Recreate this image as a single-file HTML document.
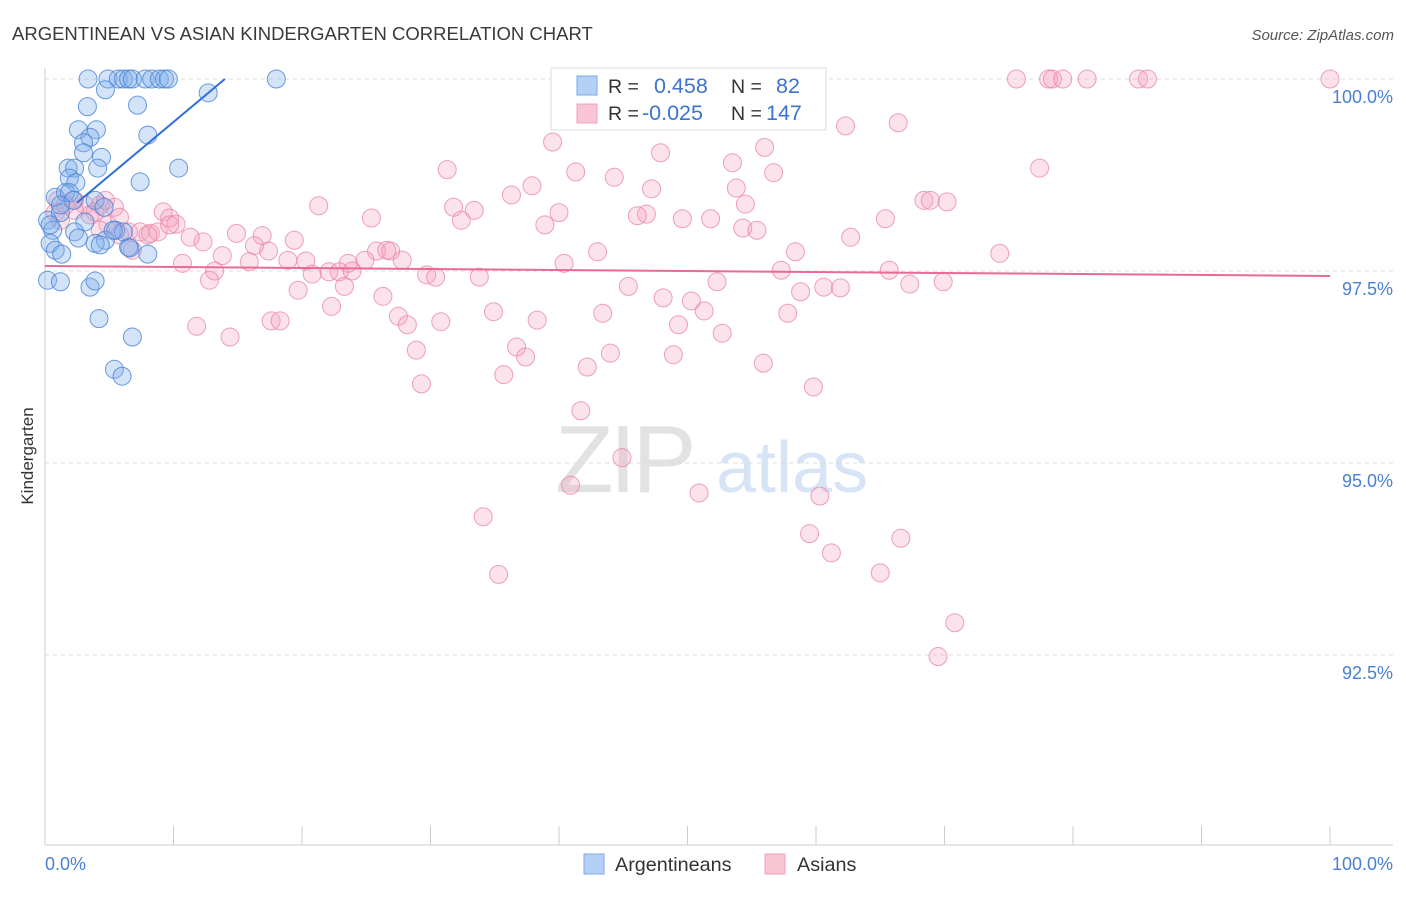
<!DOCTYPE html>
<html><head><meta charset="utf-8"><style>
body{margin:0;background:#fff;font-family:"Liberation Sans",sans-serif;}
svg text{font-family:"Liberation Sans",sans-serif;}
</style></head><body>
<svg id="chart" width="1406" height="892" viewBox="0 0 1406 892" xmlns="http://www.w3.org/2000/svg">
<text x="12" y="40" font-size="18.5" fill="#3a3a3a">ARGENTINEAN VS ASIAN KINDERGARTEN CORRELATION CHART</text>
<text x="1394" y="40" font-size="15" fill="#555" text-anchor="end" font-style="italic">Source: ZipAtlas.com</text>
<text transform="translate(33,456) rotate(-90)" font-size="17" fill="#333" text-anchor="middle">Kindergarten</text>
<g>
<text x="555" y="492" font-size="96" fill="#e2e2e2" font-family="Liberation Serif" letter-spacing="-4">ZIP</text>
<text x="716" y="492" font-size="72" fill="#d6e4f5">atlas</text>
</g>
<g id="grid"></g>
<g id="axes"></g>
<g id="pts"></g>
<g id="lines"></g>
<g>
<rect x="551" y="68" width="275" height="62" fill="#fff" stroke="#ddd"/>
<rect x="577" y="76" width="20" height="19" fill="#b5d0f5" stroke="#7aaae8"/>
<text x="608" y="93" font-size="19.5" fill="#333">R =</text>
<text x="654" y="93" font-size="21.5" fill="#3a73d0">0.458</text>
<text x="731" y="93" font-size="19.5" fill="#333">N =</text>
<text x="776" y="93" font-size="21.5" fill="#3a73d0">82</text>
<rect x="577" y="104" width="20" height="19" fill="#f9c4d4" stroke="#f0a0bc"/>
<text x="608" y="120" font-size="19.5" fill="#333">R =</text>
<text x="642" y="120" font-size="21.5" fill="#3a73d0">-0.025</text>
<text x="731" y="120" font-size="19.5" fill="#333">N =</text>
<text x="766" y="120" font-size="21.5" fill="#3a73d0">147</text>
</g>
<g>
<rect x="584" y="854" width="20" height="20" fill="#b5d0f5" stroke="#7aaae8"/>
<text x="615" y="871" font-size="19.8" fill="#333">Argentineans</text>
<rect x="765" y="854" width="20" height="20" fill="#f9c4d4" stroke="#f0a0bc"/>
<text x="797" y="871" font-size="19.8" fill="#333">Asians</text>
</g>
</svg>
<script>
const yTicks=[100,97.5,95,92.5];
const yTickLabels=["100.0%","97.5%","95.0%","92.5%"];
const xTickLabels=["0.0%","100.0%"];
const blueX=[3.35,4.9,5.7,6.1,6.5,6.8,7.8,8.3,8.9,9.3,9.6,18.0,4.7,3.3,7.2,12.7,2.6,4.0,3.5,8.0,3.0,3.0,4.4,1.8,2.3,4.1,10.4,1.9,2.4,7.4,0.8,1.6,1.9,3.9,2.2,4.6,1.2,0.2,3.1,0.6,2.3,5.5,4.7,2.6,3.9,6.5,8.0,0.4,0.8,1.3,4.3,0.2,1.2,3.5,3.9,4.2,6.8,5.4,6.0,6.1,5.3,0.4,6.6,1.2];
const blueY=[100,100,100,100,100,100,100,100,100,100,100,100,99.86,99.64,99.66,99.82,99.34,99.34,99.24,99.27,99.17,99.04,98.98,98.84,98.84,98.84,98.84,98.71,98.65,98.66,98.46,98.52,98.52,98.42,98.42,98.33,98.26,98.16,98.14,98.03,98.01,98.03,97.9,97.93,97.86,97.81,97.72,97.86,97.77,97.72,97.84,97.38,97.36,97.29,97.37,96.88,96.64,96.22,96.13,98.01,98.03,98.1,97.8,98.36];
const pinkX=[75.6,78.1,78.4,79.2,81.1,85.1,85.8,100,39.5,47.9,62.3,66.4,56.0,53.5,47.9,31.3,41.3,44.3,56.7,77.4,37.9,36.3,47.2,53.8,68.4,68.9,70.2,21.3,31.8,33.4,40.0,46.8,46.1,49.6,51.8,54.5,65.4,32.4,25.4,38.9,54.3,55.4,62.7,14.9,16.9,12.3,19.4,9.2,9.7,10.2,11.3,17.4,16.3,25.8,26.6,26.9,27.8,24.9,23.6,13.8,15.9,18.9,20.3,22.1,40.4,43.0,58.4,74.3,10.7,13.2,12.8,20.8,22.9,23.9,23.3,29.7,30.4,33.8,45.4,52.3,57.3,65.7,69.9,67.3,58.8,60.6,61.9,19.7,26.3,22.3,48.1,50.3,51.3,43.4,34.9,38.3,27.5,28.2,30.8,17.6,18.3,11.8,14.4,49.3,52.7,57.8,36.7,37.4,44.0,28.9,48.9,55.9,42.2,35.7,29.3,59.8,41.7,44.9,40.9,50.9,60.3,34.1,59.5,66.6,61.2,35.3,65.0,70.8,69.5,0.8,1.6,2.3,3.1,3.9,4.3,4.9,5.4,5.8,6.5,7.4,8.2,8.8,9.7,6.8,1.2,1.0,4.3,8.0,5.8,4.7,3.5,2.3];
const pinkY=[100,100,100,100,100,100,100,100,99.18,99.53,99.39,99.43,99.11,98.91,99.04,98.82,98.79,98.72,98.78,98.84,98.61,98.49,98.57,98.58,98.42,98.42,98.40,98.35,98.33,98.29,98.26,98.24,98.22,98.18,98.18,98.37,98.18,98.16,98.19,98.10,98.06,98.03,97.94,97.99,97.96,97.88,97.90,98.27,98.19,98.11,97.94,97.76,97.83,97.76,97.77,97.76,97.64,97.64,97.60,97.70,97.62,97.64,97.63,97.49,97.60,97.75,97.75,97.73,97.60,97.50,97.38,97.46,97.49,97.50,97.30,97.45,97.42,97.42,97.30,97.36,97.51,97.51,97.36,97.33,97.23,97.29,97.28,97.25,97.17,97.04,97.15,97.11,96.98,96.95,96.97,96.86,96.91,96.80,96.84,96.85,96.85,96.78,96.64,96.80,96.69,96.95,96.51,96.38,96.43,96.47,96.41,96.30,96.25,96.15,96.03,95.99,95.68,95.07,94.71,94.61,94.57,94.30,94.08,94.02,93.83,93.55,93.57,92.92,92.48,98.26,98.36,98.42,98.36,98.27,98.36,98.10,98.33,98.20,98.01,98.01,97.99,98.01,98.10,97.77,98.16,98.42,98.03,97.97,97.97,98.42,98.23,98.29];
const blueLine=[[2.5,98.39],[14,100]];
const pinkLine=[[0,97.565],[100,97.435]];

const NS="http://www.w3.org/2000/svg";
const X=v=>45+v*12.85;
const Y=v=>79+(100-v)*76.8;
function mk(t,a,p){const e=document.createElementNS(NS,t);for(const k in a)e.setAttribute(k,a[k]);p.appendChild(e);return e;}
const grid=document.getElementById('grid'),axes=document.getElementById('axes'),pts=document.getElementById('pts'),lines=document.getElementById('lines');
yTicks.forEach((t,i)=>{
 const l=mk('line',{x1:45,x2:1393,y1:Y(t),y2:Y(t),stroke:'#ddd','stroke-dasharray':'4,4'},grid);
 
 
 const tx=mk('text',{x:1393,y:Y(t)+24,'font-size':18,fill:'#4a7fd4','text-anchor':'end'},axes);
 tx.textContent=yTickLabels[i];
 
 
});
const ya=mk('line',{x1:45,x2:45,y1:68,y2:845,stroke:'#ccc'},axes);


const xa=mk('line',{x1:45,x2:1393,y1:845,y2:845,stroke:'#ccc'},axes);


for(let i=0;i<=10;i++){
 const tk=mk('line',{x1:X(i*10),x2:X(i*10),y1:826,y2:845,stroke:'#ccc'},axes);
 
 
}
[[0,'start',45],[1,'end',1393]].forEach(([i,a,x])=>{
 const t=mk('text',{x:x,y:870,'font-size':18,fill:'#4a7fd4','text-anchor':a},axes);
 t.textContent=xTickLabels[i];
 
 
});
pinkX.forEach((v,i)=>{
 const c=mk('circle',{cx:X(v),cy:Y(pinkY[i]),r:9,fill:'rgba(244,160,190,0.3)',stroke:'rgba(232,130,168,0.75)','stroke-width':1},pts);
 
 
});
blueX.forEach((v,i)=>{
 const c=mk('circle',{cx:X(v),cy:Y(blueY[i]),r:9,fill:'rgba(130,175,235,0.35)',stroke:'rgba(70,130,215,0.8)','stroke-width':1},pts);
 
 
});
const bl=mk('line',{x1:X(blueLine[0][0]),y1:Y(blueLine[0][1]),x2:X(blueLine[1][0]),y2:Y(blueLine[1][1]),stroke:'#2f6fd6','stroke-width':2},lines);


const pl=mk('line',{x1:X(pinkLine[0][0]),y1:Y(pinkLine[0][1]),x2:X(pinkLine[1][0]),y2:Y(pinkLine[1][1]),stroke:'#e86a96','stroke-width':2},lines);


</script>
</body></html>
